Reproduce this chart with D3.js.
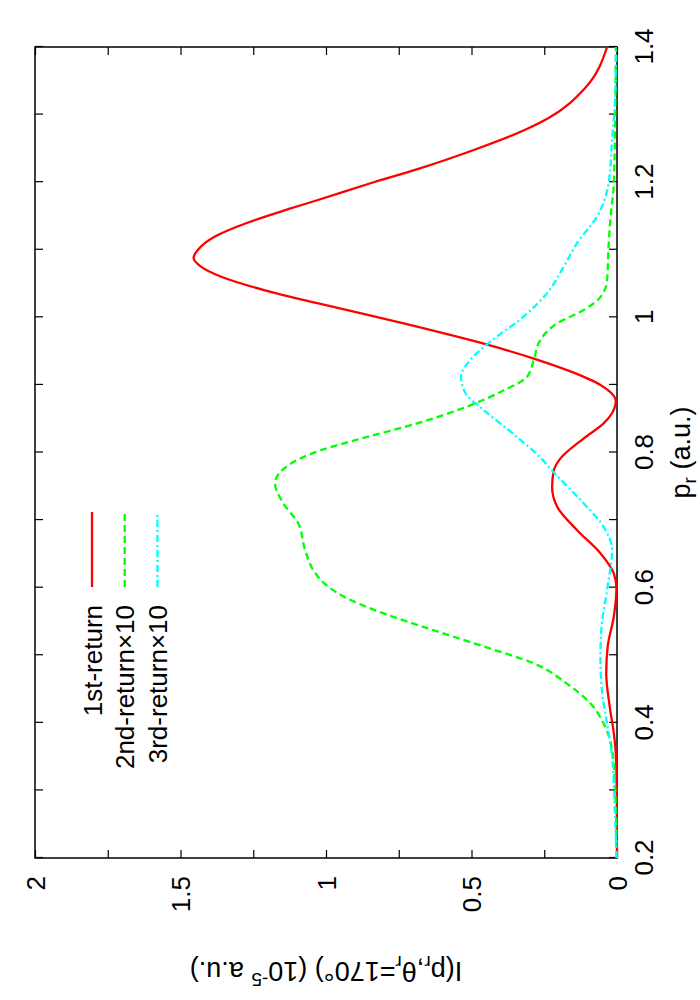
<!DOCTYPE html>
<html><head><meta charset="utf-8">
<script src="https://cdn.jsdelivr.net/npm/d3@7/dist/d3.min.js"></script>
<style>
body{margin:0;background:#fff}
svg{display:block}
text{font-family:"Liberation Sans",Arial,Helvetica,sans-serif;fill:#000}
</style>
</head><body>
<svg id="chart" width="700" height="1000"></svg>
<script>
// ---- data (p_r in a.u., intensity in 1e-5 a.u.) ----
const pTickValues = [0.2,0.3,0.4,0.5,0.6,0.7,0.8,0.9,1.0,1.1,1.2,1.3,1.4];
const pTickLabels = ["0.2","","0.4","","0.6","","0.8","","1","","1.2","","1.4"];
const iTickValues = [0,0.25,0.5,0.75,1,1.25,1.5,1.75,2];
const iTickLabels = ["0","","0.5","","1","","1.5","","2"];

const seriesNames = ["1st-return","2nd-return\u00d710","3rd-return\u00d710"];

const redP = [0.20,0.30,0.345,0.385,0.424,0.473,0.513,0.557,0.599,0.621,0.651,0.685,0.72,0.749,0.772,0.791,0.821,0.843,0.876,0.90,0.92,0.939,0.961,0.991,1.021,1.04,1.06,1.075,1.088,1.10,1.12,1.14,1.16,1.174,1.198,1.22,1.248,1.272,1.295,1.339,1.40];
const redI = [0.000,0.001,0.003,0.011,0.025,0.037,0.032,0.011,0.002,0.011,0.057,0.137,0.206,0.223,0.218,0.195,0.114,0.046,0.004,0.057,0.16,0.286,0.458,0.733,1.03,1.21,1.36,1.43,1.455,1.44,1.38,1.27,1.13,1.025,0.85,0.68,0.49,0.345,0.235,0.11,0.034];

const greenP = [0.20,0.30,0.36,0.399,0.429,0.458,0.488,0.513,0.537,0.562,0.582,0.606,0.621,0.656,0.695,0.725,0.754,0.781,0.803,0.823,0.843,0.868,0.892,0.912,0.937,0.966,0.991,1.011,1.031,1.055,1.105,1.144,1.198,1.30,1.40];
const greenI = [0.001,0.006,0.017,0.046,0.092,0.172,0.286,0.458,0.63,0.802,0.917,1.005,1.036,1.072,1.095,1.147,1.175,1.13,1.02,0.859,0.687,0.515,0.389,0.309,0.286,0.264,0.206,0.114,0.055,0.034,0.029,0.023,0.011,0.006,0.004];

const cyanP = [0.20,0.276,0.35,0.399,0.449,0.498,0.547,0.597,0.656,0.69,0.73,0.774,0.791,0.821,0.863,0.888,0.912,0.937,0.964,1.001,1.036,1.075,1.11,1.149,1.198,1.262,1.312,1.40];
const cyanI = [0.002,0.008,0.017,0.034,0.052,0.057,0.052,0.034,0.017,0.046,0.126,0.225,0.26,0.338,0.458,0.521,0.536,0.504,0.435,0.321,0.24,0.183,0.137,0.069,0.029,0.017,0.008,0.003];

// ---- layout: chart drawn normally, then rotated 90deg counter-clockwise ----
const W = 811, H = 582;
const svg = d3.select("#chart");
svg.append("rect").attr("width",700).attr("height",1000).attr("fill","#fff");
const g = svg.append("g").attr("transform","translate(35,858) rotate(-90)");

const x = d3.scaleLinear().domain([0.2,1.4]).range([0,W]);
const y = d3.scaleLinear().domain([0,2]).range([H,0]);
const FONT = '"Liberation Sans",Arial,Helvetica,sans-serif';

function styleAxis(sel){
  sel.select(".domain").remove();
  sel.attr("font-family",FONT).attr("font-size",26);
  sel.selectAll(".tick line").attr("stroke","#000").attr("stroke-width",1.2);
}

// bottom (p_r) axis
const gx = g.append("g").attr("transform",`translate(0,${H})`)
  .call(d3.axisBottom(x).tickValues(pTickValues).tickSize(-8).tickFormat((d,i)=>pTickLabels[i]));
styleAxis(gx);
gx.selectAll(".tick text").attr("y",36).attr("dy",null);

// top mirror
const gxt = g.append("g").call(d3.axisTop(x).tickValues(pTickValues).tickSize(-8).tickFormat(""));
styleAxis(gxt);

// left (intensity) axis
const gy = g.append("g")
  .call(d3.axisLeft(y).tickValues(iTickValues).tickSize(-8).tickPadding(18).tickFormat((d,i)=>iTickLabels[i]));
styleAxis(gy);
gy.selectAll(".tick text").attr("dy","0.36em");

// right mirror
const gyr = g.append("g").attr("transform",`translate(${W},0)`)
  .call(d3.axisRight(y).tickValues(iTickValues).tickSize(-8).tickFormat(""));
styleAxis(gyr);

// frame
g.append("rect").attr("x",0).attr("y",0).attr("width",W).attr("height",H)
  .attr("fill","none").attr("stroke","#000").attr("stroke-width",1.5);

// curves
const line = d3.line().x(d=>x(d[0])).y(d=>y(d[1])).curve(d3.curveMonotoneX);
const series = [
  {P:redP, I:redI, color:"#ff0000", dash:null},
  {P:greenP, I:greenI, color:"#00ff00", dash:"7,4"},
  {P:cyanP, I:cyanI, color:"#00ffff", dash:"7,3,2,3"}
];
series.forEach(s=>{
  const pts = s.P.map((p,i)=>[p,s.I[i]]);
  g.append("path").datum(pts).attr("d",line)
    .attr("fill","none").attr("stroke",s.color).attr("stroke-width",2.3)
    .attr("stroke-dasharray",s.dash);
});

// legend
const leg = g.append("g");
series.forEach((s,i)=>{
  const yy = 57 + i*32.7;
  leg.append("line").attr("x1",271).attr("x2",346).attr("y1",yy).attr("y2",yy)
    .attr("stroke",s.color).attr("stroke-width",2.3).attr("stroke-dasharray",s.dash);
  leg.append("text").attr("x",253).attr("y",yy+9.5).attr("text-anchor","end")
    .attr("font-size",26).text(seriesNames[i]);
});

// x label  p_r (a.u.)
const xl = g.append("text").attr("x",W/2).attr("y",655).attr("text-anchor","middle").attr("font-size",27);
xl.append("tspan").text("p");
xl.append("tspan").attr("font-size",19).attr("dy",6).text("r");
xl.append("tspan").attr("dy",-6).text(" (a.u.)");

// y label  I(p_r, θ_r=170°) (10^-5 a.u.)
const yl = g.append("text").attr("transform",`translate(-104,${H/2}) rotate(-90)`)
  .attr("text-anchor","middle").attr("font-size",27);
yl.append("tspan").text("I(p");
yl.append("tspan").attr("font-size",19).attr("dy",6).text("r");
yl.append("tspan").attr("dy",-6).text(",\u03b8");
yl.append("tspan").attr("font-size",19).attr("dy",6).text("r");
yl.append("tspan").attr("dy",-6).text("=170\u00b0) (10");
yl.append("tspan").attr("font-size",19).attr("dy",-11).text("-5");
yl.append("tspan").attr("dy",11).text(" a.u.)");
</script>
</body></html>
